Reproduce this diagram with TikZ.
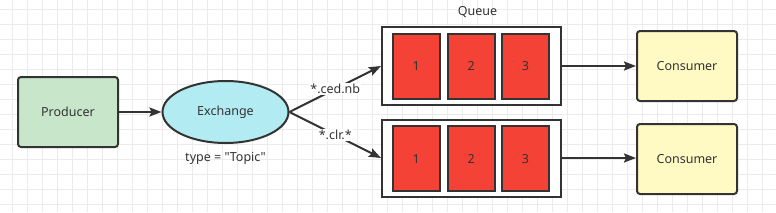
\documentclass[tikz,border=0pt]{standalone}
\usepackage{fontspec}
\setmainfont{Noto Sans}
\newfontfamily\nsans{Noto Sans}
\usetikzlibrary{arrows.meta,shapes.geometric}
\definecolor{strk}{HTML}{333333}
\definecolor{prodfill}{HTML}{C8E6C9}
\definecolor{exfill}{HTML}{B2EBF2}
\definecolor{cellfill}{HTML}{F44336}
\definecolor{consfill}{HTML}{FFF9C4}
\definecolor{gridc}{HTML}{EBEBEB}
\definecolor{txt}{HTML}{333333}
\tikzset{
  fnt/.style={font=\nsans\fontsize{12.5}{14}\selectfont},
  pbox/.style={draw=strk, line width=2pt, rounded corners=3pt, fill=#1, text=txt, fnt, inner sep=0pt},
  qbox/.style={draw=strk, line width=2pt, fill=white, inner sep=0pt},
  cell/.style={draw=strk, line width=2pt, fill=cellfill, text=txt, inner sep=0pt, minimum width=47pt, minimum height=65pt, fnt},
  conn/.style={draw=strk, line width=2pt, -{Stealth[length=12pt,width=9pt,inset=2pt]}},
  lbl/.style={fill=white, text=txt, inner sep=1pt, fnt},
}
\begin{document}
\begin{tikzpicture}[x=1pt,y=-1pt]
\useasboundingbox (0,0) rectangle (776,212);
\fill[white] (0,0) rectangle (776,212);
\foreach \i in {0,...,51} { \draw[gridc, line width=1pt] ({12.3+15*\i},0) -- ({12.3+15*\i},212); }
\foreach \j in {0,...,13} { \draw[gridc, line width=1pt] (0,{9+15*\j}) -- (776,{9+15*\j}); }

\node[pbox=prodfill, minimum width=100pt, minimum height=70pt] (prod) at (68,112) {Producer};
\node[draw=strk, line width=2pt, ellipse, fill=exfill, text=txt, inner sep=0pt, minimum width=126pt, minimum height=62pt, fnt] (ex) at (225.5,112) {Exchange};
\node[text=txt, fnt] (type) at (225.5,158) {type = "Topic"};

\node[qbox, minimum width=179pt, minimum height=78pt] (q1) at (471.5,66) {};
\node[qbox, minimum width=179pt, minimum height=77pt] (q2) at (471.5,158) {};
\node[text=txt, fnt] (qlabel) at (477.5,12) {Queue};

\node[cell] (a1) at (416.3,66) {1};
\node[cell] (a2) at (471.3,66) {2};
\node[cell] (a3) at (525.5,66) {3};
\node[cell] (b1) at (416.3,158.8) {1};
\node[cell] (b2) at (471.3,158.8) {2};
\node[cell] (b3) at (525.5,158.8) {3};

\node[pbox=consfill, minimum width=100pt, minimum height=70pt] (c1) at (687,66) {Consumer};
\node[pbox=consfill, minimum width=100pt, minimum height=70pt] (c2) at (687,159) {Consumer};

\draw[conn] (prod) -- (ex);
\draw[conn] (ex.east) -- node[lbl, pos=0.5] {*.ced.nb} (q1.west);
\draw[conn] (ex.east) -- node[lbl, pos=0.5] {*.clr.*} (q2.west);
\draw[conn] (q1) -- (c1);
\draw[conn] (q2.east) -- (c2.west |- q2.east);
\end{tikzpicture}
\end{document}
